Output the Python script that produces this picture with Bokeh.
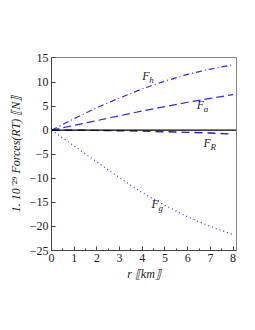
from bokeh.plotting import figure
from bokeh.embed import file_html
from bokeh.resources import INLINE
from bokeh.models import Range1d, FixedTicker, Span
from bokeh.core.properties import value

r = [0, 1, 2, 3, 4, 5, 6, 7, 8]
F_h = [0, 2.4, 4.7, 6.7, 8.6, 10.2, 11.6, 12.7, 13.6]
F_a = [0, 1.0, 2.0, 3.0, 4.0, 4.9, 5.8, 6.6, 7.4]
F_R = [0, -0.01, -0.05, -0.12, -0.2, -0.32, -0.45, -0.6, -0.8]
F_g = [0, -3.3, -6.6, -9.9, -13.0, -15.6, -18.0, -20.0, -21.7]

x_ticks = [0, 1, 2, 3, 4, 5, 6, 7, 8]
y_ticks = [-25, -20, -15, -10, -5, 0, 5, 10, 15]
y_tick_labels = ["\u221225", "\u221220", "\u221215", "\u221210", "\u22125", "0", "5", "10", "15"]

label_main = ["F", "F", "F", "F"]
label_sub = ["h", "a", "R", "g"]
label_r = [4.0, 6.4, 6.7, 4.4]
label_y = [11.3, 5.3, -2.6, -15.4]

SERIF = "Liberation Serif"
BLUE = "#2a2aff"

p = figure(width=247, height=322, output_backend="svg", toolbar_location=None,
           x_range=Range1d(0, 8.15), y_range=Range1d(-25, 15.1),
           min_border_left=51, min_border_right=11, min_border_top=57, min_border_bottom=72)
p.grid.visible = False
p.outline_line_color = "#888888"
p.background_fill_color = "white"
p.border_fill_color = "white"

for ax in (p.xaxis, p.yaxis):
    ax.major_label_text_font = SERIF
    ax.major_label_text_font_size = "12px"
    ax.major_label_text_color = "#222222"
    ax.axis_line_color = "#444444"
    ax.major_tick_line_color = "#444444"
    ax.minor_tick_line_color = "#444444"
    ax.major_tick_in = 4
    ax.major_tick_out = 0
    ax.minor_tick_in = 2
    ax.minor_tick_out = 0
    ax.axis_label_text_font = SERIF
    ax.axis_label_text_font_style = "italic"
    ax.axis_label_text_font_size = "12px"
    ax.axis_label_text_color = "#222222"

p.xaxis.ticker = FixedTicker(ticks=x_ticks, minor_ticks=[v + 0.5 for v in x_ticks])
p.yaxis.ticker = FixedTicker(ticks=y_ticks)
p.yaxis.major_label_overrides = {t: l for t, l in zip(y_ticks, y_tick_labels)}
p.xaxis.axis_label = "r \u27e6km\u27e7"
p.xaxis.axis_label_standoff = 2
p.yaxis.axis_label = "1. 10\u207b\u00b2\u2079 Forces(RT) \u27e6N\u27e7"
p.yaxis.axis_label_standoff = 4
p.xaxis.major_label_standoff = 3
p.yaxis.major_label_standoff = 3

p.add_layout(Span(location=0, dimension="width", line_color="black", line_width=1.2))

p.line(r, F_h, line_color=BLUE, line_width=1.2, line_dash="6 3 1 3")
p.line(r, F_a, line_color=BLUE, line_width=1.2, line_dash="8 4")
p.line(r, F_R, line_color="#2020cc", line_width=1.4, line_dash="8 5")
p.line(r, F_g, line_color=BLUE, line_width=1.2, line_dash="1 3")

p.text(label_r, label_y, text=label_main, text_font=value(SERIF), text_font_style="italic",
       text_font_size="12px", text_color="#222222", text_baseline="middle", text_align="left")
p.text(label_r, label_y, text=label_sub, text_font=value(SERIF), text_font_style="italic",
       text_font_size="9px", text_color="#222222", text_baseline="middle", text_align="left",
       x_offset=7, y_offset=4)

open("out.html", "w").write(file_html(p, INLINE))
